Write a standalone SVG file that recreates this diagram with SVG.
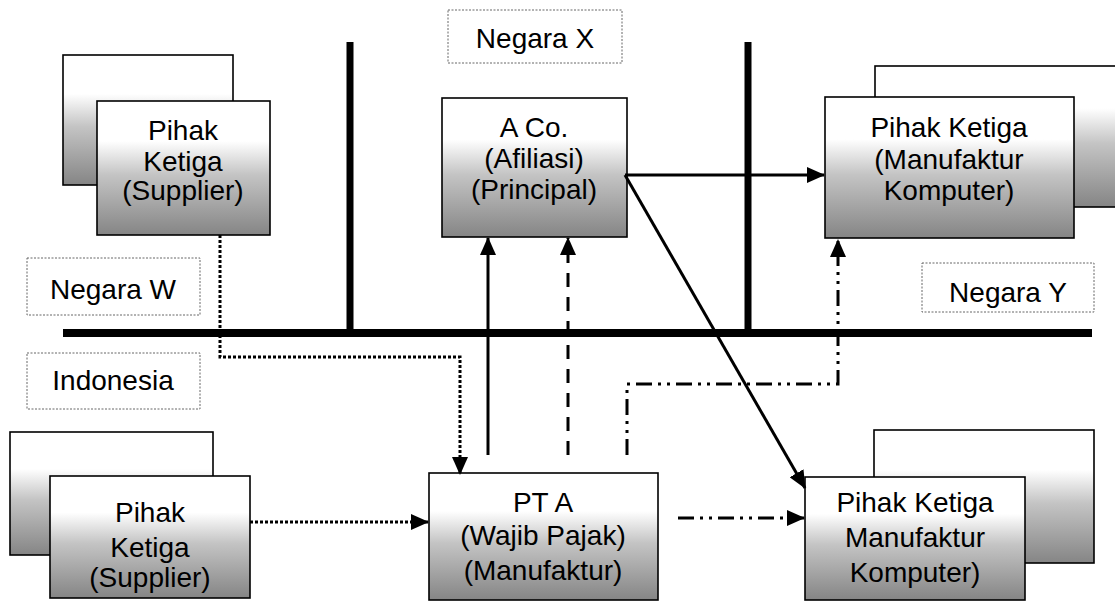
<svg xmlns="http://www.w3.org/2000/svg" width="1115" height="606" viewBox="0 0 1115 606">
<style>
.box{fill:url(#g);stroke:#000;stroke-width:1.6}
.lbl{fill:#fff;stroke:#666;stroke-width:1;stroke-dasharray:2 1.5}
.t{font-family:"Liberation Sans",Arial,sans-serif;font-size:28px;fill:#000;text-anchor:middle}
.lt{font-family:"Liberation Sans",Arial,sans-serif;font-size:28px;fill:#000;text-anchor:middle}
.c{fill:none;stroke:#000;stroke-width:3}
.bar{stroke:#000;fill:none}
</style>
<defs>
<linearGradient id="g" x1="0" y1="0" x2="0" y2="1">
<stop offset="0" stop-color="#fff"/>
<stop offset="0.3" stop-color="#fff"/>
<stop offset="0.55" stop-color="#c4c4c4"/>
<stop offset="1" stop-color="#858585"/>
</linearGradient>
<marker id="ah" markerUnits="userSpaceOnUse" markerWidth="18" markerHeight="16" refX="17" refY="8" orient="auto">
<path d="M0,0 L18,8 L0,16 Z" fill="#000"/>
</marker>
</defs>
<g id="borders">
<line class="bar" x1="63" y1="333" x2="1092" y2="333" stroke-width="8"/>
<line class="bar" x1="350" y1="42" x2="350" y2="333" stroke-width="7"/>
<line class="bar" x1="748" y1="42" x2="748" y2="333" stroke-width="7"/>
</g>
<g id="negara-x"><rect class="lbl" x="448" y="10" width="174" height="53"/><text class="lt" x="535" y="48">Negara X</text></g>
<g id="negara-w"><rect class="lbl" x="27" y="258" width="173" height="57"/><text class="lt" x="113" y="299">Negara W</text></g>
<g id="indonesia"><rect class="lbl" x="27" y="353" width="173" height="56"/><text class="lt" x="113" y="390">Indonesia</text></g>
<g id="negara-y"><rect class="lbl" x="922" y="263" width="172" height="49"/><text class="lt" x="1008" y="302">Negara Y</text></g>
<g id="supplier-w">
<rect class="box" x="63" y="55" width="170" height="130"/>
<rect class="box" x="97" y="101" width="173" height="134"/>
<text class="t" x="183" y="140">Pihak</text>
<text class="t" x="183" y="171">Ketiga</text>
<text class="t" x="183" y="200">(Supplier)</text>
</g>
<g id="aco">
<rect class="box" x="442" y="98" width="185" height="139"/>
<text class="t" x="534" y="137">A Co.</text>
<text class="t" x="534" y="168">(Afiliasi)</text>
<text class="t" x="534" y="199">(Principal)</text>
</g>
<g id="manuf-y">
<rect class="box" x="875" y="66" width="250" height="141"/>
<rect class="box" x="825" y="97" width="249" height="141"/>
<text class="t" x="949" y="137">Pihak Ketiga</text>
<text class="t" x="949" y="169">(Manufaktur</text>
<text class="t" x="949" y="200">Komputer)</text>
</g>
<g id="supplier-id">
<rect class="box" x="10" y="432" width="203" height="123"/>
<rect class="box" x="50" y="476" width="200" height="122"/>
<text class="t" x="150" y="522">Pihak</text>
<text class="t" x="150" y="557">Ketiga</text>
<text class="t" x="150" y="587">(Supplier)</text>
</g>
<g id="pta">
<rect class="box" x="429" y="473" width="229" height="127"/>
<text class="t" x="543" y="512">PT A</text>
<text class="t" x="543" y="545">(Wajib Pajak)</text>
<text class="t" x="543" y="580">(Manufaktur)</text>
</g>
<g id="manuf-id">
<rect class="box" x="874" y="430" width="220" height="133"/>
<rect class="box" x="805" y="477" width="220" height="123"/>
<text class="t" x="915" y="512">Pihak Ketiga</text>
<text class="t" x="915" y="547">Manufaktur</text>
<text class="t" x="915" y="582">Komputer)</text>
</g>
<g id="connectors">
<polyline class="c" points="220,235 220,357 460,357 460,474" stroke-width="2.5" stroke-dasharray="3 2" marker-end="url(#ah)"/>
<line class="c" x1="250" y1="522" x2="428" y2="522" stroke-width="2.5" stroke-dasharray="3 2" marker-end="url(#ah)"/>
<line class="c" x1="488" y1="455" x2="488" y2="238" marker-end="url(#ah)"/>
<line class="c" x1="568" y1="455" x2="568" y2="238" stroke-dasharray="14 10" marker-end="url(#ah)"/>
<polyline class="c" points="627,455 627,384 838,384 838,240" stroke-dasharray="16 6 3 6 3 6" marker-end="url(#ah)"/>
<line class="c" x1="678" y1="518" x2="804" y2="518" stroke-dasharray="16 6 3 6 3 6" marker-end="url(#ah)"/>
<line class="c" x1="625" y1="175" x2="824" y2="175" marker-end="url(#ah)"/>
<line class="c" x1="625" y1="175" x2="805" y2="488" marker-end="url(#ah)"/>
</g>
</svg>
